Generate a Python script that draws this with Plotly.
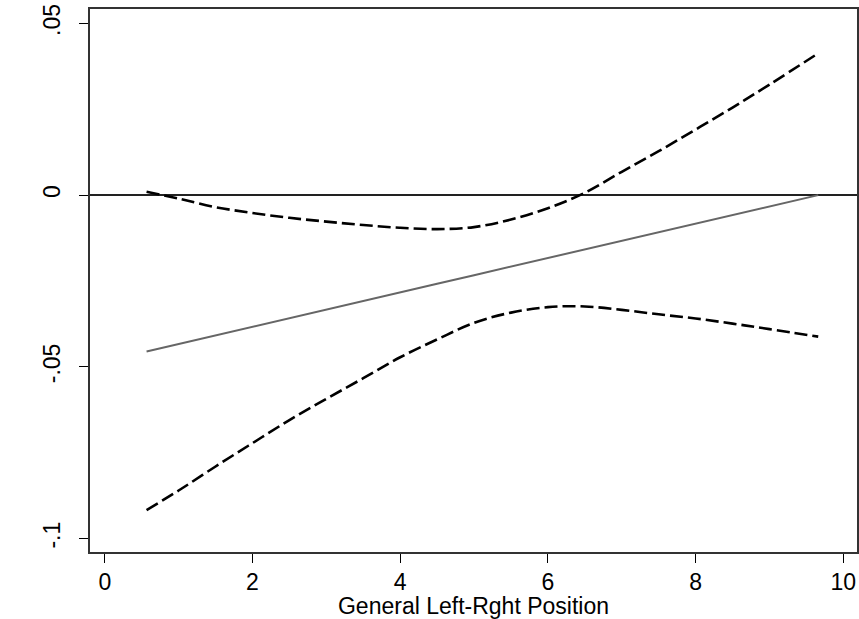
import plotly.graph_objects as go

# Data
x_vals = [0.566, 1.0, 1.5, 2.0, 2.5, 3.0, 3.5, 4.0, 4.5, 5.0, 5.5, 6.0, 6.5, 7.0, 7.5, 8.0, 8.5, 9.0, 9.66]
effect = [-0.0455, -0.0433, -0.0408, -0.0383, -0.0358, -0.0333, -0.0308, -0.0283, -0.0258, -0.0233,
          -0.0208, -0.0183, -0.0158, -0.0133, -0.0108, -0.0083, -0.0058, -0.0033, 0.0]
upper_ci = [0.0010, -0.0010, -0.0035, -0.0052, -0.0066, -0.0077, -0.0087, -0.0095, -0.0099, -0.0093,
            -0.0071, -0.0038, 0.0007, 0.0068, 0.0128, 0.0191, 0.0255, 0.0322, 0.0413]
lower_ci = [-0.0917, -0.0860, -0.0790, -0.0722, -0.0655, -0.0593, -0.0533, -0.0472, -0.0420, -0.0372,
            -0.0342, -0.0326, -0.0324, -0.0334, -0.0347, -0.0359, -0.0374, -0.0390, -0.0412]

x_ticks = [0, 2, 4, 6, 8, 10]
y_ticks = [-0.1, -0.05, 0, 0.05]
y_tick_text = ["-.1", "-.05", "0", ".05"]
x_title = "General Left-Rght Position"

FONT = "Liberation Sans, Arial, sans-serif"

fig = go.Figure()
fig.add_trace(go.Scatter(x=x_vals, y=effect, mode="lines",
                         line=dict(color="#666666", width=2), showlegend=False))
fig.add_trace(go.Scatter(x=x_vals, y=upper_ci, mode="lines", line_shape="spline",
                         line=dict(color="black", width=2.6, dash="13px,5px"), showlegend=False))
fig.add_trace(go.Scatter(x=x_vals, y=lower_ci, mode="lines", line_shape="spline",
                         line=dict(color="black", width=2.6, dash="13px,5px"), showlegend=False))

fig.update_layout(
    width=859, height=619,
    margin=dict(l=90, r=2, t=9, b=67, autoexpand=False),
    paper_bgcolor="white", plot_bgcolor="white",
    font=dict(family=FONT, size=22, color="black"),
    xaxis=dict(
        range=[-0.2, 10.185],
        tickmode="array", tickvals=x_ticks,
        ticks="outside", ticklen=9, tickwidth=1, tickcolor="black",
        showgrid=False, zeroline=False, automargin=False,
        showline=True, linecolor="#333333", linewidth=1.5, mirror=True,
        title=dict(text=x_title, font=dict(size=23), standoff=0),
        tickfont=dict(size=23),
    ),
    yaxis=dict(
        range=[-0.1039, 0.0542],
        tickmode="array", tickvals=y_ticks, ticktext=y_tick_text,
        tickangle=-90, automargin=False,
        ticks="outside", ticklen=9, tickwidth=1, tickcolor="black",
        showgrid=False,
        zeroline=True, zerolinecolor="#222222", zerolinewidth=2,
        showline=True, linecolor="#333333", linewidth=1.5, mirror=True,
        tickfont=dict(size=23),
        ticklabelstandoff=10,
    ),
)

fig.write_html("out.html", config={"displayModeBar": False},
               post_script="document.body.style.margin='0';document.body.style.overflow='hidden';")
